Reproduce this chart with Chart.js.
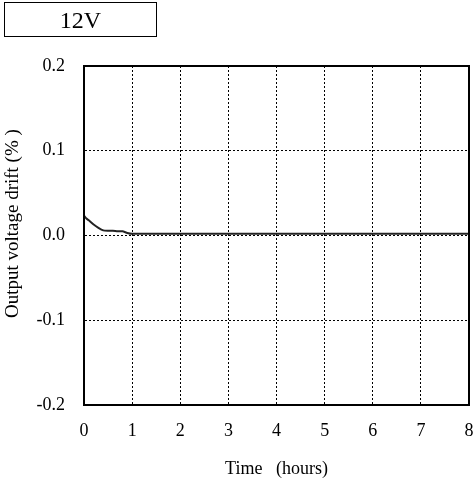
<!DOCTYPE html>
<html>
<head>
<meta charset="utf-8">
<script src="https://cdn.jsdelivr.net/npm/chart.js@4"></script>
<style>
  html, body { margin: 0; padding: 0; background: #fff; }
  #wrap { position: relative; width: 476px; height: 482px; }
  #label {
    position: absolute; left: 4px; top: 2px; width: 151px; height: 33px;
    border: 1.5px solid #000; text-align: center;
    font: 24px "Liberation Serif", "Times New Roman", serif; line-height: 34px;
  }
</style>
</head>
<body>
<div id="wrap">
  <canvas id="chart" width="476" height="482"></canvas>
  <div id="label">12V</div>
</div>
<script>
// Data
const timeHours = [0, 0.05, 0.1, 0.2, 0.3, 0.4, 0.5, 0.6, 0.7, 0.8, 0.9, 1.0, 1.5, 2, 3, 4, 5, 6, 7, 8];
const driftPct = [0.0235, 0.02, 0.018, 0.013, 0.009, 0.006, 0.0055, 0.0055, 0.005, 0.005, 0.003, 0.002, 0.002, 0.002, 0.002, 0.002, 0.002, 0.002, 0.002, 0.002];
const xTicks = [0, 1, 2, 3, 4, 5, 6, 7, 8];
const yTicks = [-0.2, -0.1, 0.0, 0.1, 0.2];

const serif = '"Liberation Serif", "Times New Roman", serif';

// draw the full box around the plot area
const frame = {
  id: 'frame',
  afterDraw(chart) {
    const { ctx, chartArea: a } = chart;
    ctx.save();
    ctx.strokeStyle = '#000';
    ctx.lineWidth = 2;
    ctx.setLineDash([]);
    ctx.strokeRect(a.left, a.top, a.right - a.left, a.bottom - a.top);
    ctx.restore();
  }
};

const ctx = document.getElementById('chart').getContext('2d');
new Chart(ctx, {
  type: 'line',
  data: {
    datasets: [{
      data: timeHours.map((t, i) => ({ x: t, y: driftPct[i] })),
      borderColor: '#222',
      borderWidth: 2,
      pointRadius: 0,
      tension: 0.2,
      fill: false
    }]
  },
  options: {
    responsive: false,
    animation: false,
    layout: { padding: { top: 66, right: 7, left: 0, bottom: 0 } },
    plugins: { legend: { display: false }, tooltip: { enabled: false } },
    scales: {
      x: {
        type: 'linear',
        min: 0, max: 8,
        afterBuildTicks: s => { s.ticks = xTicks.map(v => ({ value: v })); },
        afterFit: s => { s.height = 77; s.paddingLeft = 0; s.paddingRight = 0; },
        grid: { color: '#000', lineWidth: 1, drawTicks: false },
        border: { display: true, color: '#000', width: 2, dash: [2, 2] },
        ticks: { color: '#000', padding: 15, maxRotation: 0, font: { family: serif, size: 18 } },
        title: { display: true, text: 'Time   (hours)', color: '#000', padding: { top: 0, bottom: 2 }, font: { family: serif, size: 18 } }
      },
      y: {
        min: -0.2, max: 0.2,
        afterBuildTicks: s => { s.ticks = yTicks.map(v => ({ value: v })); },
        afterFit: s => { s.width = 84; s.paddingTop = 0; s.paddingBottom = 0; },
        grid: { color: '#000', lineWidth: 1, drawTicks: false },
        border: { display: true, color: '#000', width: 2, dash: [2, 2] },
        ticks: { color: '#000', padding: 19, font: { family: serif, size: 18 }, callback: v => v.toFixed(1) },
        // leading spaces nudge the title up, as in the reference
        title: { display: true, text: '     Output voltage drift (% )', color: '#000', padding: { top: 2, bottom: 0 }, font: { family: serif, size: 19 } }
      }
    }
  },
  plugins: [frame]
});
</script>
</body>
</html>
